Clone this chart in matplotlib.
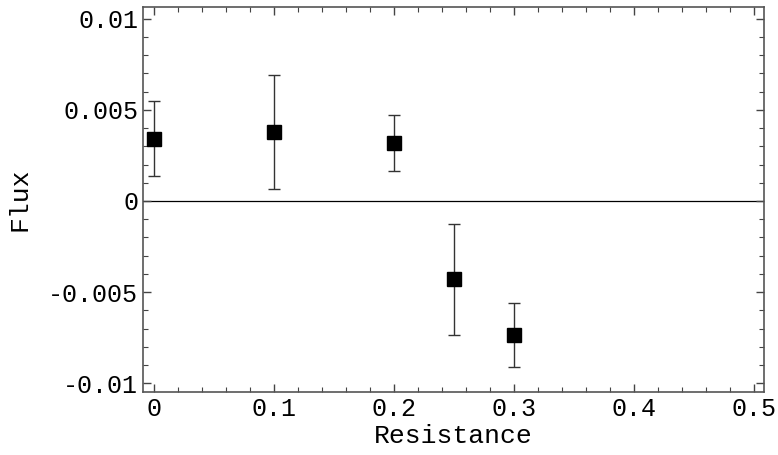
import matplotlib
matplotlib.use("Agg")
import matplotlib.pyplot as plt
from matplotlib.ticker import MultipleLocator

# data
resistance = [0.0, 0.1, 0.2, 0.25, 0.3]
flux = [0.00339, 0.0038, 0.00318, -0.00429, -0.00736]
flux_hi = [0.0055, 0.00694, 0.0047, -0.00128, -0.00559]
flux_lo = [0.00137, 0.00066, 0.00165, -0.00733, -0.0091]

plt.rcParams["font.family"] = ["Liberation Mono", "DejaVu Sans Mono"]

fig = plt.figure(figsize=(7.78, 4.55), dpi=100)
ax = fig.add_axes([0.1838, 0.1385, 0.982 - 0.1838, 0.984 - 0.1385])

err_lo = [f - lo for f, lo in zip(flux, flux_lo)]
err_hi = [hi - f for f, hi in zip(flux, flux_hi)]
ax.axhline(0, color="black", lw=0.9, zorder=1)
ax.errorbar(resistance, flux, yerr=[err_lo, err_hi], fmt="s", color="black",
            ms=10, ecolor="#333333", elinewidth=1.0, capsize=4.5, capthick=1.0,
            zorder=3)

ax.set_xlim(-0.0092, 0.508)
ax.set_ylim(-0.01048, 0.01063)
ax.xaxis.set_minor_locator(MultipleLocator(0.02))
ax.yaxis.set_minor_locator(MultipleLocator(0.001))
ax.set_xticks([0, 0.1, 0.2, 0.3, 0.4, 0.5])
ax.set_xticklabels(["0", "0.1", "0.2", "0.3", "0.4", "0.5"])
ax.set_yticks([-0.01, -0.005, 0, 0.005, 0.01])
ax.set_yticklabels(["-0.01", "-0.005", "0", "0.005", "0.01"])
ax.tick_params(which="both", direction="in", top=True, right=True,
               labelsize=18, color="#444444")
ax.tick_params(which="major", length=6, width=1)
ax.tick_params(which="minor", length=3.5, width=0.8)
for s in ax.spines.values():
    s.set_color("#555555")
    s.set_linewidth(1.2)

ax.set_xlabel("Resistance", fontsize=19, labelpad=2)
ax.set_ylabel("Flux", fontsize=19, labelpad=12)

fig.savefig("out.png", dpi=100)
